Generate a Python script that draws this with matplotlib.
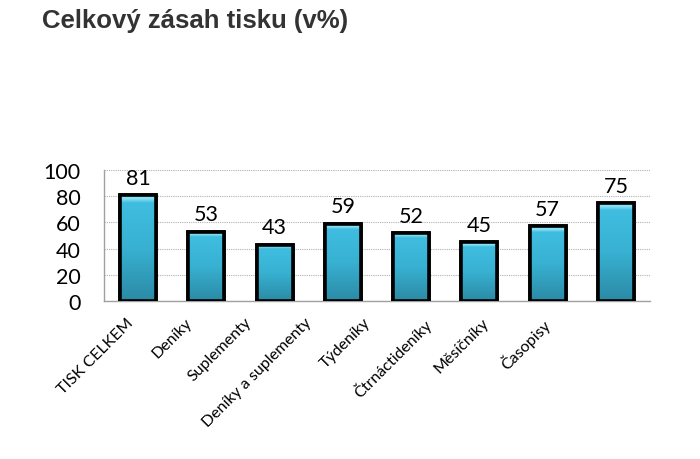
import matplotlib
matplotlib.use("Agg")
import matplotlib.pyplot as plt
import numpy as np
from matplotlib.colors import LinearSegmentedColormap

categories = ["TISK CELKEM", "Deníky", "Suplementy", "Deníky a suplementy",
              "Týdeníky", "Čtrnáctideníky", "Měsíčníky", "Časopisy"]
values = [81, 53, 43, 59, 52, 45, 57, 75]
yticks = [0, 20, 40, 60, 80, 100]
title = "Celkový zásah tisku (v%)"

plt.rcParams['font.family'] = ['Lato', 'DejaVu Sans']

fig = plt.figure(figsize=(7, 4.6), dpi=100)
ax = fig.add_axes([0.1486, 0.3435, 0.78, 0.2848])

x = np.arange(len(categories))
bars = ax.bar(x, values, width=0.53, color="#3ab5d6", edgecolor="black",
              linewidth=2.6, zorder=3)

cmap = LinearSegmentedColormap.from_list(
    "g", [(0.0, "#2b8aa5"), (0.5, "#38b1d2"), (0.92, "#3fbde0"), (0.96, "#8fe3f4"), (1.0, "#6ad4ec")])
grad = np.linspace(0, 1, 256).reshape(-1, 1)
for b in bars:
    x0, y0 = b.get_x(), b.get_y()
    w, h = b.get_width(), b.get_height()
    im = ax.imshow(grad, cmap=cmap, origin="lower", aspect="auto",
                   extent=[x0, x0 + w, y0, y0 + h], zorder=3.5)
    im.set_clip_path(b)
    edge = plt.Rectangle((x0, y0), w, h, fill=False, edgecolor="black",
                         linewidth=2.6, zorder=4)
    ax.add_patch(edge)

for xi, v in zip(x, values):
    ax.text(xi, v + 5.5, str(v), ha="center", va="bottom", fontsize=15.5,
            color="black", zorder=5, clip_on=False)

ax.set_xlim(-0.5, len(categories) - 0.5)
ax.set_ylim(0, 100)
ax.set_yticks(yticks)
ax.set_yticklabels([str(t) for t in yticks], fontsize=15.5)
ax.tick_params(axis="y", length=0, pad=17)

# category labels in the reference sit on a slightly tighter pitch than the bars
label_pos = x * 0.87 - 0.18
ax.set_xticks(label_pos)
ax.set_xticklabels(categories, rotation=45, ha="right", rotation_mode="anchor",
                   fontsize=11.5)
ax.tick_params(axis="x", length=0, pad=10)

ax.yaxis.grid(True, linestyle=(0, (1, 1)), color="#b0b0b0", linewidth=0.8, zorder=0)
ax.set_axisbelow(True)
for s in ["top", "right"]:
    ax.spines[s].set_visible(False)
for s in ["left", "bottom"]:
    ax.spines[s].set_color("#a0a0a0")
    ax.spines[s].set_linewidth(1.0)

fig.text(0.06, 0.955, title, fontsize=18.5, fontweight="bold", color="#333333",
         family=["Liberation Sans", "DejaVu Sans"], ha="left", va="center")

fig.savefig("out.png", dpi=100)
